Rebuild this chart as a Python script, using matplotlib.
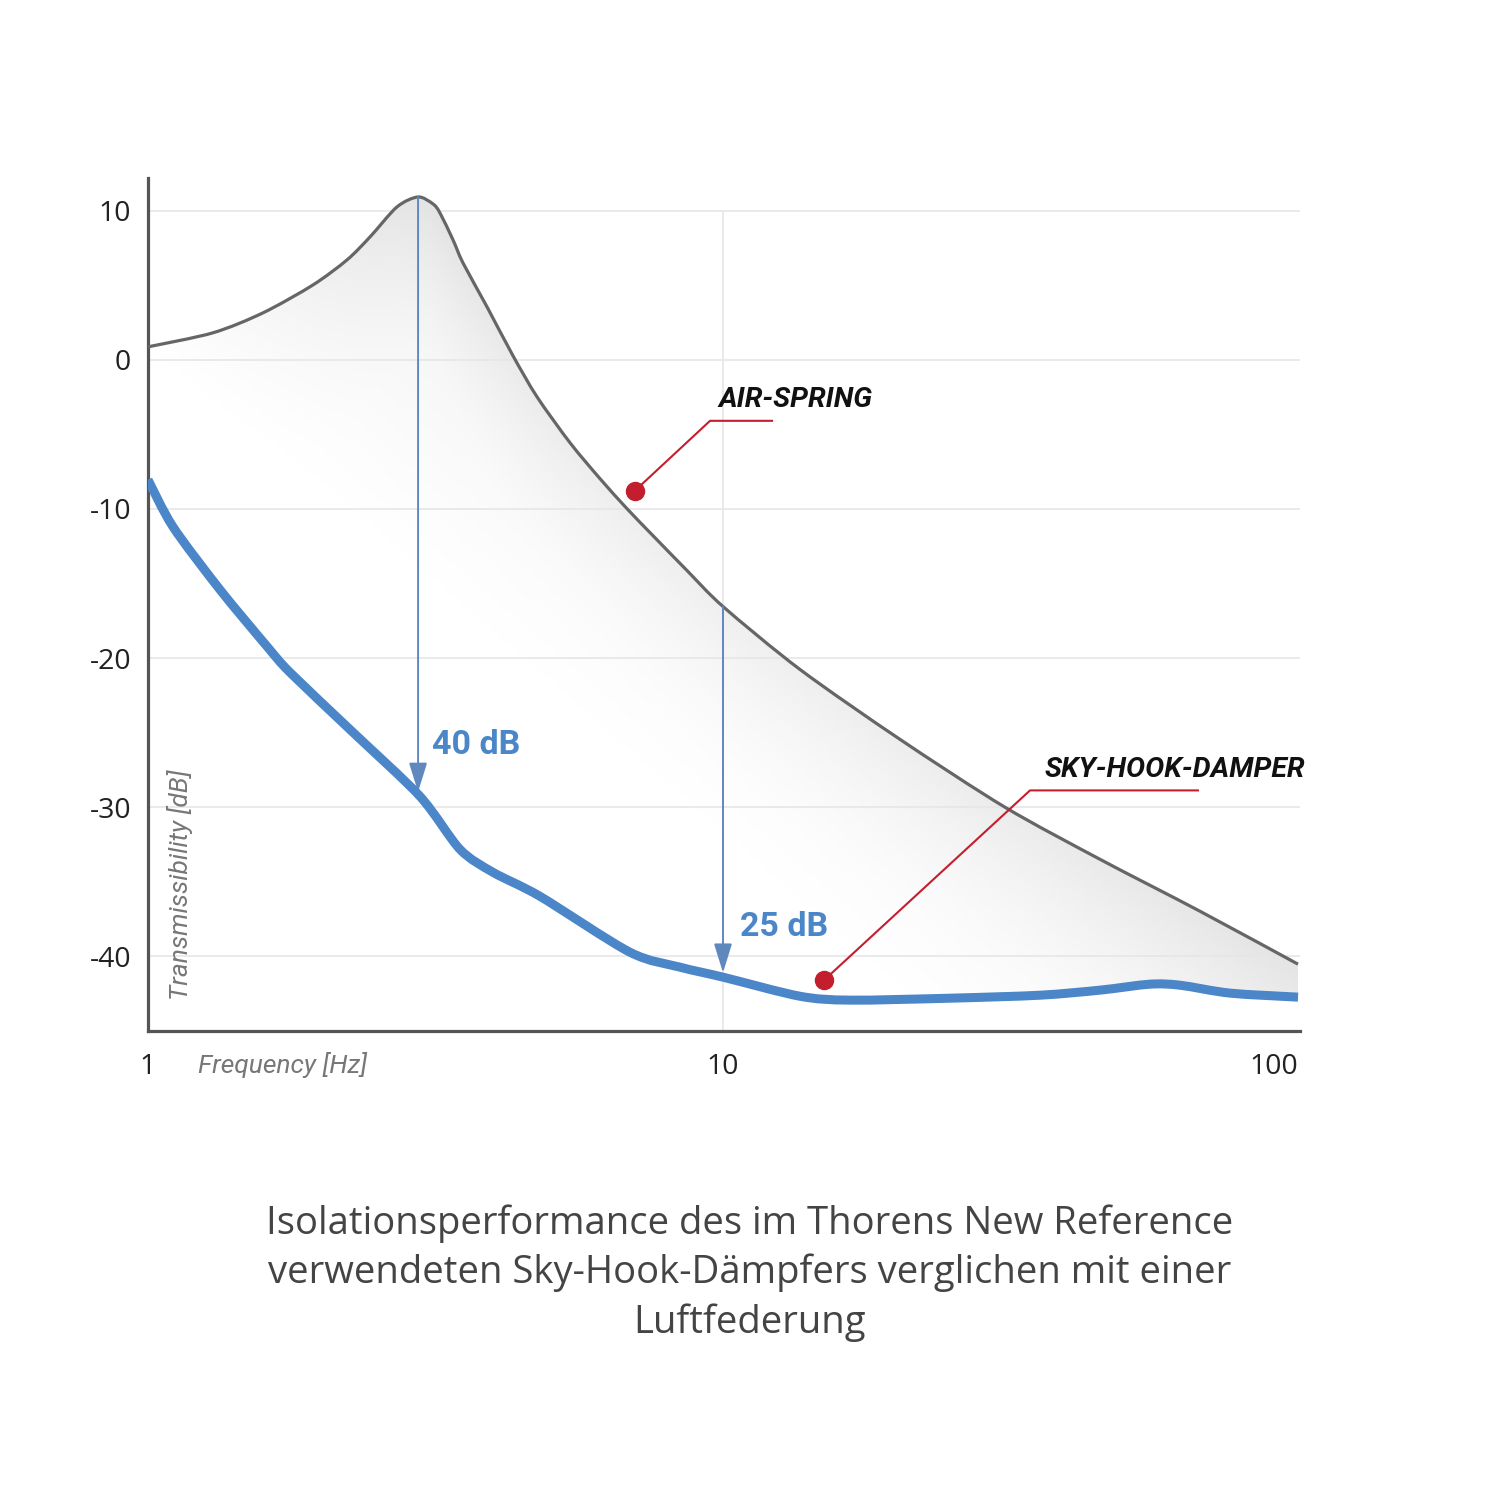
import numpy as np
import matplotlib
matplotlib.use('Agg')
import matplotlib.pyplot as plt
from matplotlib.path import Path
from matplotlib.patches import PathPatch

# Air-spring transmissibility curve (frequency in Hz, level in dB)
air_freq = [1.0, 1.297, 1.585, 1.936, 2.219, 2.433, 2.710, 2.949, 3.131, 3.219,
            3.392, 3.530, 3.887, 4.313, 4.748, 5.419, 6.111, 6.808, 7.555, 8.659,
            10.0, 13.61, 20.32, 30.94, 45.26, 67.53, 100.0]
air_db = [0.87, 1.81, 3.15, 5.02, 6.70, 8.24, 10.25, 10.92, 10.45, 9.85,
          8.04, 6.50, 3.55, 0.27, -2.48, -5.56, -7.97, -9.98, -11.79, -14.13,
          -16.54, -20.76, -25.45, -30.0, -33.49, -36.97, -40.52]

# Sky-hook damper curve
sky_freq = [1.0, 1.105, 1.334, 1.611, 1.766, 2.273, 2.972, 3.488, 3.981, 4.805,
            6.890, 8.418, 10.0, 13.61, 16.63, 24.82, 35.59, 45.26, 55.28, 62.33,
            76.15, 100.0]
sky_db = [-8.04, -11.19, -15.41, -19.22, -20.96, -24.98, -29.27, -32.82, -34.36, -35.97,
          -39.72, -40.72, -41.39, -42.67, -42.93, -42.80, -42.60, -42.26, -41.86, -41.93,
          -42.46, -42.73]

y_ticks = [10, 0, -10, -20, -30, -40]
x_ticks = [1, 10, 100]
x_tick_labels = ['1', '10', '100']

# improvement arrows
gap_freq = [2.949, 10.0]
gap_top = [10.92, -16.54]
gap_bottom = [-29.27, -41.39]
gap_labels = ['40 dB', '25 dB']

caption = ('Isolationsperformance des im Thorens New Reference\n'
           'verwendeten Sky-Hook-Dämpfers verglichen mit einer\n'
           'Luftfederung')

BLUE = '#4a86c8'
RED = '#c41e2e'
GRAY = '#666666'


def smooth(freq, db, tension=0.85):
    # Catmull-Rom through the points, drawn as cubic Bezier segments in log-frequency space
    u = np.log10(freq)
    p = np.column_stack([u, db])
    ext = np.vstack([p[0], p, p[-1]])
    verts = [p[0]]
    for i in range(len(p) - 1):
        p0, p1, p2, p3 = ext[i], ext[i + 1], ext[i + 2], ext[i + 3]
        verts += [p1 + (p2 - p0) * tension / 6, p2 - (p3 - p1) * tension / 6, p2]
    verts = np.array(verts)
    verts[:, 0] = 10 ** verts[:, 0]
    codes = [Path.MOVETO] + [Path.CURVE4] * (len(verts) - 1)
    return verts, codes


fig = plt.figure(figsize=(15, 15), dpi=100)
ax = fig.add_axes([148 / 1500, 1 - 1031 / 1500, 1152 / 1500, 853 / 1500])
ax.set_xscale('log')
ax.set_xlim(1, 100.8)
ax.set_ylim(-45, 12.19)

# grid lines
ax.hlines(y_ticks, 1, 100.8, color='#e6e6e6', lw=1.2, zorder=1)
ax.vlines(10, -45, 10, color='#e6e6e6', lw=1.2, zorder=1)

air_v, air_c = smooth(air_freq, air_db)
sky_v, sky_c = smooth(sky_freq, sky_db)

# gradient fill between the curves (fades away from the air-spring slope)
u = np.linspace(0, 2.0035, 500)
v = np.linspace(-45, 12.19, 400)
U, V = np.meshgrid(u, v)
px = 148 + 575 * U
py = 360 - 14.93 * V
dist = ((px - 418) * -768 + (py - 197) * 882) / 1169.0
below = (np.interp(U, np.log10(air_freq), air_db) - V) * 14.93
shade = np.clip(1 - dist / 310.0, 0, 1) ** 1.2
shade *= 0.55 + 0.45 * np.clip(1 - below / 160.0, 0, 1)
mesh = ax.pcolormesh(10 ** U, V, 1 - 0.11 * shade, cmap='gray', vmin=0, vmax=1,
                     shading='auto', zorder=0.5)
fill_v = np.vstack([air_v, sky_v[::-1]])
fill_c = air_c + [Path.LINETO] + [Path.CURVE4] * (len(sky_v) - 1)
fill_path = Path(np.vstack([fill_v, fill_v[:1]]), fill_c + [Path.CLOSEPOLY])
clip = PathPatch(fill_path, facecolor='none', edgecolor='none', transform=ax.transData)
ax.add_patch(clip)
mesh.set_clip_path(clip)

# curves
ax.add_patch(PathPatch(Path(air_v, air_c), fill=False, edgecolor=GRAY, lw=2.3,
                       zorder=3, joinstyle='round'))
ax.add_patch(PathPatch(Path(sky_v, sky_c), fill=False, edgecolor=BLUE, lw=6.5,
                       zorder=4, joinstyle='round', capstyle='butt'))

# arrows and labels
label_pos = [(3.118, -25.8), (10.71, -38.0)]
for f, top, bot, lab, pos in zip(gap_freq, gap_top, gap_bottom, gap_labels, label_pos):
    ax.annotate('', xy=(f, bot + 0.3), xytext=(f, top),
                arrowprops=dict(arrowstyle='-|>,head_length=0.9,head_width=0.28',
                                color='#5f88bf', lw=1.4, mutation_scale=20,
                                shrinkA=0, shrinkB=0), zorder=3.5)
    ax.text(pos[0], pos[1], lab, color=BLUE, fontsize=24.5, fontweight='bold',
            family='Roboto', ha='left', va='center', zorder=5)

# callouts
ax.plot([7.03, 9.494, 12.17], [-8.77, -4.09, -4.09], color=RED, lw=1.5, zorder=5)
ax.plot([7.03], [-8.77], 'o', color=RED, ms=13, zorder=6)
ax.text(9.80, -2.68, 'AIR-SPRING', fontsize=20.5, fontweight='bold', style='italic',
        family='Roboto', color='#111111', ha='left', va='center', zorder=6)

ax.plot([14.99, 34.19, 66.99], [-41.59, -28.87, -28.87], color=RED, lw=1.5, zorder=5)
ax.plot([14.99], [-41.59], 'o', color=RED, ms=13, zorder=6)
ax.text(36.31, -27.46, 'SKY-HOOK-DAMPER', fontsize=20.5, fontweight='bold', style='italic',
        family='Roboto', color='#111111', ha='left', va='center', zorder=6)

# axes styling
for side in ['top', 'right']:
    ax.spines[side].set_visible(False)
for side in ['left', 'bottom']:
    ax.spines[side].set_color('#555555')
    ax.spines[side].set_linewidth(2.3)
ax.set_yticks(y_ticks)
ax.set_yticklabels([str(t) for t in y_ticks], family='Open Sans', fontsize=20.5, color='#222222')
ax.set_xticks(x_ticks)
ax.set_xticklabels(x_tick_labels, family='Open Sans', fontsize=20.5, color='#222222')
ax.xaxis.get_majorticklabels()[-1].set_horizontalalignment('right')
ax.minorticks_off()
ax.tick_params(axis='y', length=0, pad=12)
ax.tick_params(axis='x', length=0, pad=16)

ax.text(0.028, 0.172, 'Transmissibility [dB]', transform=ax.transAxes, rotation=90,
        style='italic', family='Roboto', fontsize=19, color='#777777',
        ha='center', va='center')
fig.text(198 / 1500, 1 - 1065 / 1500, 'Frequency [Hz]', style='italic',
         family='Roboto', fontsize=19, color='#777777', ha='left', va='center')

fig.text(0.5, 1 - 1273 / 1500, caption, ha='center', va='center', family='Open Sans',
         fontsize=27.5, color='#444444', linespacing=1.37)

fig.savefig('out.png', dpi=100, facecolor='white')
